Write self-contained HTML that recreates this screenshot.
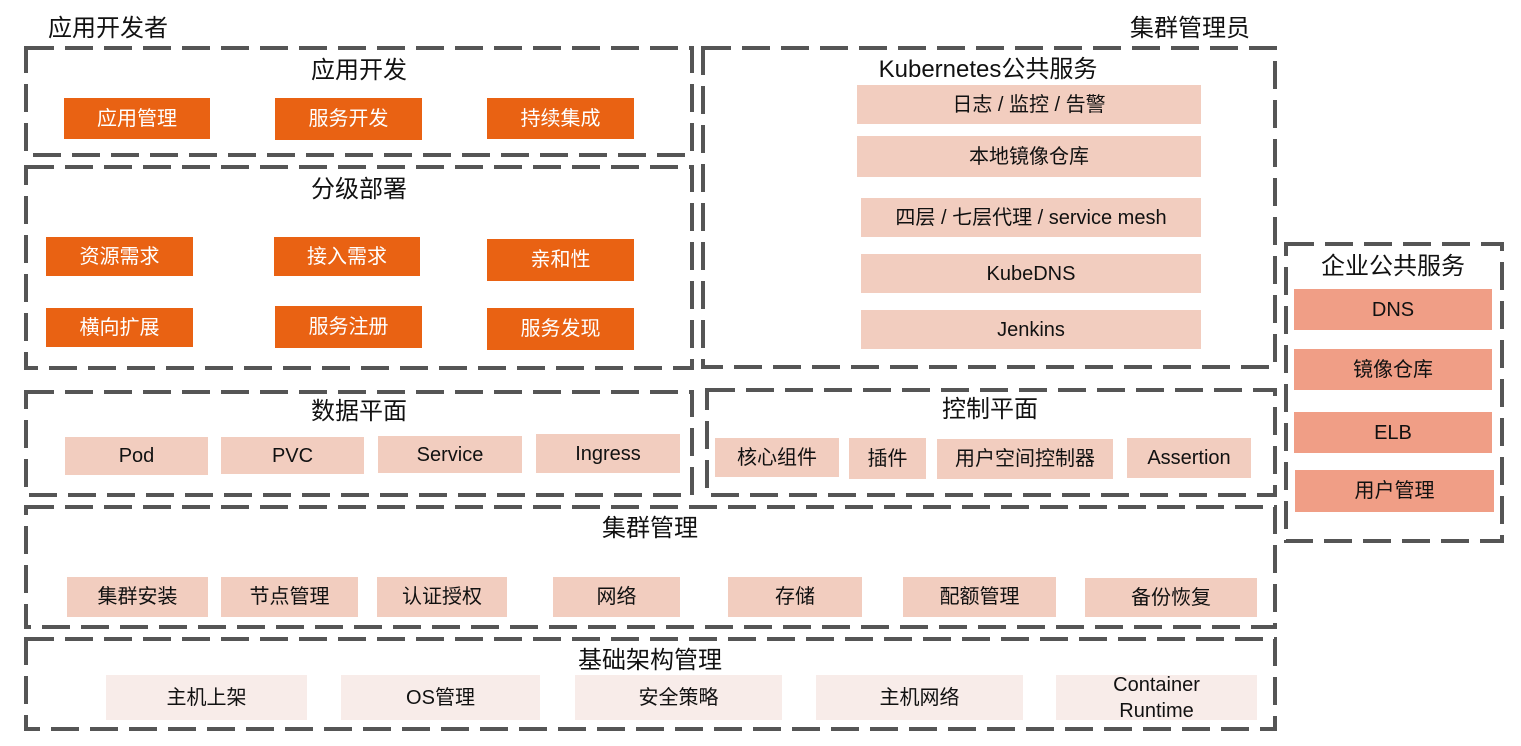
<!DOCTYPE html>
<html><head><meta charset="utf-8"><style>
body{margin:0;width:1521px;height:746px;background:#fff;position:relative;overflow:hidden;font-family:"Liberation Sans","Noto Sans CJK SC",sans-serif;color:#111}
.b{position:absolute;display:flex;align-items:center;justify-content:center;font-size:20px;text-align:center;line-height:26px}
.o{background:#E96213;color:#fff}
.p{background:#F2CDBF}
.l{background:#F8ECE9}
.e{background:#F09E86}
.t{position:absolute;font-size:24px;white-space:nowrap;transform:translateX(-50%);line-height:28px}
svg{position:absolute;left:0;top:0}
</style></head><body>
<svg width="1521" height="746">
<g fill="none" stroke="#555" stroke-width="4" stroke-dasharray="28 11">
<rect x="26" y="48" width="666" height="107"/>
<rect x="26" y="167" width="666" height="201"/>
<rect x="703" y="48" width="572" height="319"/>
<rect x="26" y="392" width="666" height="103"/>
<rect x="707" y="390" width="568" height="105"/>
<rect x="26" y="507" width="1249" height="120"/>
<rect x="26" y="639" width="1249" height="90"/>
<rect x="1286" y="244" width="216" height="297"/>
</g></svg>
<div class="t" style="left:108px;top:15px">应用开发者</div>
<div class="t" style="left:1190px;top:15px">集群管理员</div>
<div class="t" style="left:359px;top:57px">应用开发</div>
<div class="t" style="left:359px;top:176px">分级部署</div>
<div class="t" style="left:988px;top:56px">Kubernetes公共服务</div>
<div class="t" style="left:359px;top:398px">数据平面</div>
<div class="t" style="left:990px;top:396px">控制平面</div>
<div class="t" style="left:650px;top:515px">集群管理</div>
<div class="t" style="left:650px;top:647px">基础架构管理</div>
<div class="t" style="left:1393px;top:253px">企业公共服务</div>

<div class="b o" style="left:64px;top:98px;width:146px;height:41px">应用管理</div>
<div class="b o" style="left:275px;top:98px;width:147px;height:42px">服务开发</div>
<div class="b o" style="left:487px;top:98px;width:147px;height:41px">持续集成</div>
<div class="b o" style="left:46px;top:237px;width:147px;height:39px">资源需求</div>
<div class="b o" style="left:274px;top:237px;width:146px;height:39px">接入需求</div>
<div class="b o" style="left:487px;top:239px;width:147px;height:42px">亲和性</div>
<div class="b o" style="left:46px;top:308px;width:147px;height:39px">横向扩展</div>
<div class="b o" style="left:275px;top:306px;width:147px;height:42px">服务注册</div>
<div class="b o" style="left:487px;top:308px;width:147px;height:42px">服务发现</div>

<div class="b p" style="left:857px;top:85px;width:344px;height:39px">日志 / 监控 / 告警</div>
<div class="b p" style="left:857px;top:136px;width:344px;height:41px">本地镜像仓库</div>
<div class="b p" style="left:861px;top:198px;width:340px;height:39px">四层 / 七层代理 / service mesh</div>
<div class="b p" style="left:861px;top:254px;width:340px;height:39px">KubeDNS</div>
<div class="b p" style="left:861px;top:310px;width:340px;height:39px">Jenkins</div>

<div class="b p" style="left:65px;top:437px;width:143px;height:38px">Pod</div>
<div class="b p" style="left:221px;top:437px;width:143px;height:37px">PVC</div>
<div class="b p" style="left:378px;top:436px;width:144px;height:37px">Service</div>
<div class="b p" style="left:536px;top:434px;width:144px;height:39px">Ingress</div>

<div class="b p" style="left:715px;top:438px;width:124px;height:39px">核心组件</div>
<div class="b p" style="left:849px;top:438px;width:77px;height:41px">插件</div>
<div class="b p" style="left:937px;top:439px;width:176px;height:40px">用户空间控制器</div>
<div class="b p" style="left:1127px;top:438px;width:124px;height:40px">Assertion</div>

<div class="b p" style="left:67px;top:577px;width:141px;height:40px">集群安装</div>
<div class="b p" style="left:221px;top:577px;width:137px;height:40px">节点管理</div>
<div class="b p" style="left:377px;top:577px;width:130px;height:40px">认证授权</div>
<div class="b p" style="left:553px;top:577px;width:127px;height:40px">网络</div>
<div class="b p" style="left:728px;top:577px;width:134px;height:40px">存储</div>
<div class="b p" style="left:903px;top:577px;width:153px;height:40px">配额管理</div>
<div class="b p" style="left:1085px;top:578px;width:172px;height:39px">备份恢复</div>

<div class="b l" style="left:106px;top:675px;width:201px;height:45px">主机上架</div>
<div class="b l" style="left:341px;top:675px;width:199px;height:45px">OS管理</div>
<div class="b l" style="left:575px;top:675px;width:207px;height:45px">安全策略</div>
<div class="b l" style="left:816px;top:675px;width:207px;height:45px">主机网络</div>
<div class="b l" style="left:1056px;top:675px;width:201px;height:45px">Container<br>Runtime</div>

<div class="b e" style="left:1294px;top:289px;width:198px;height:41px">DNS</div>
<div class="b e" style="left:1294px;top:349px;width:198px;height:41px">镜像仓库</div>
<div class="b e" style="left:1294px;top:412px;width:198px;height:41px">ELB</div>
<div class="b e" style="left:1295px;top:470px;width:199px;height:42px">用户管理</div>
</body></html>
